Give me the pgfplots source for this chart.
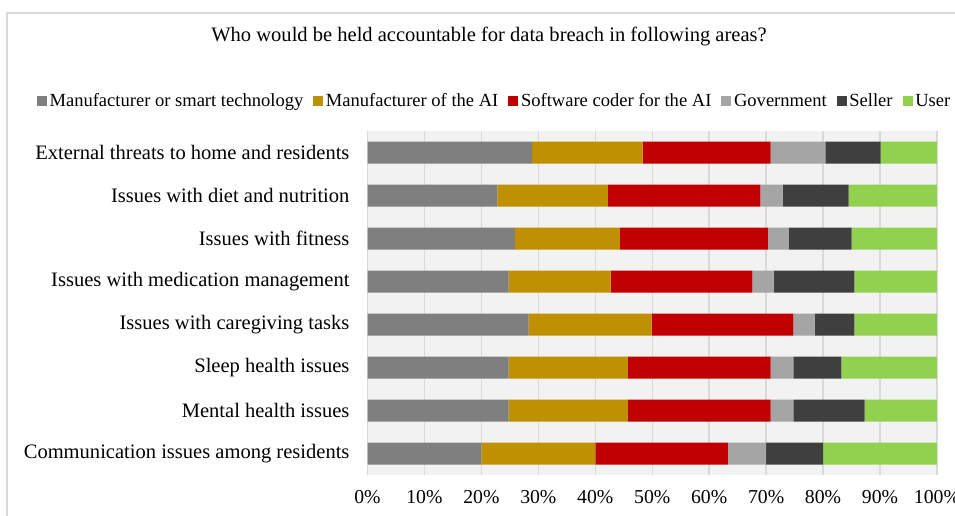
\documentclass[border=0pt]{standalone}
\usepackage{pgfplots}
\pgfplotsset{compat=1.18}
\usepackage{fontspec}
\setmainfont{Liberation Serif}
\definecolor{cA}{HTML}{7F7F7F}
\definecolor{cB}{HTML}{BF9000}
\definecolor{cC}{HTML}{C00000}
\definecolor{cD}{HTML}{A5A5A5}
\definecolor{cE}{HTML}{3F3F3F}
\definecolor{cF}{HTML}{92D050}
\definecolor{bgc}{HTML}{F2F2F2}
\definecolor{gridc}{HTML}{D9D9D9}
\newcommand{\fs}{\fontsize{15.4}{18}\selectfont}
\newcommand{\fl}{\fontsize{13.9}{16}\selectfont}
\newcommand{\ft}{\fontsize{14.8}{17}\selectfont}
\begin{document}
\begin{tikzpicture}
\path[use as bounding box] (0,0) rectangle ({955*0.75pt},{-515*0.75pt});
\draw[gridc, line width=0.9pt] ({7*0.75pt},{-520*0.75pt}) -- ({7*0.75pt},{-13*0.75pt}) -- ({960*0.75pt},{-13*0.75pt});
\node[font=\fs] at ({489*0.75pt},{-36*0.75pt}) {Who would be held accountable for data breach in following areas?};
\begin{axis}[
  at={({367.5*0.75pt},{-475*0.75pt})}, anchor=south west,
  scale only axis, width=427.1pt, height=258pt,
  xbar stacked, bar width=16.5pt,
  xmin=0, xmax=100, ymin=-0.5, ymax=7.5, enlargelimits=false,
  axis background/.style={fill=bgc},
  axis line style={draw=none},
  xmajorgrids, grid style={gridc, line width=1.1pt},
  major tick length=0,
  xtick={0,10,...,100},
  xticklabel={\pgfmathprintnumber{\tick}\%},
  /pgf/number format/assume math mode=true,
  x tick label style={font=\ft, yshift=-8pt},
  ytick={0,...,7},
  yticklabels={Communication issues among residents, Mental health issues, Sleep health issues, Issues with caregiving tasks, Issues with medication management, Issues with fitness, Issues with diet and nutrition, External threats to home and residents},
  y tick label style={font=\fs, xshift=-10pt},
  legend columns=6,
  legend style={draw=none, fill=none, font=\fl, at={(-0.588,1.087)}, anchor=west,
    /tikz/every even column/.append style={column sep=5.5pt}},
  legend image code/.code={\fill[#1] (0pt,-3.75pt) rectangle (7.5pt,3.75pt);},
]
\addplot[fill=cA, draw=none] coordinates {(20,0) (24.8,1) (24.8,2) (28.3,3) (24.8,4) (25.9,5) (22.8,6) (28.9,7)};
\addplot[fill=cB, draw=none] coordinates {(20,0) (20.9,1) (20.9,2) (21.6,3) (17.9,4) (18.4,5) (19.4,6) (19.4,7)};
\addplot[fill=cC, draw=none] coordinates {(23.3,0) (25.1,1) (25.1,2) (24.9,3) (24.9,4) (26.0,5) (26.8,6) (22.5,7)};
\addplot[fill=cD, draw=none] coordinates {(6.7,0) (4.0,1) (4.0,2) (3.7,3) (3.7,4) (3.7,5) (3.9,6) (9.6,7)};
\addplot[fill=cE, draw=none] coordinates {(10,0) (12.5,1) (8.4,2) (7.0,3) (14.2,4) (11.0,5) (11.6,6) (9.7,7)};
\addplot[fill=cF, draw=none] coordinates {(20,0) (12.7,1) (16.8,2) (14.5,3) (14.5,4) (15.0,5) (15.5,6) (9.9,7)};
\legend{Manufacturer or smart technology, Manufacturer of the AI, Software coder for the AI, Government, Seller, User}
\end{axis}
\end{tikzpicture}
\end{document}
